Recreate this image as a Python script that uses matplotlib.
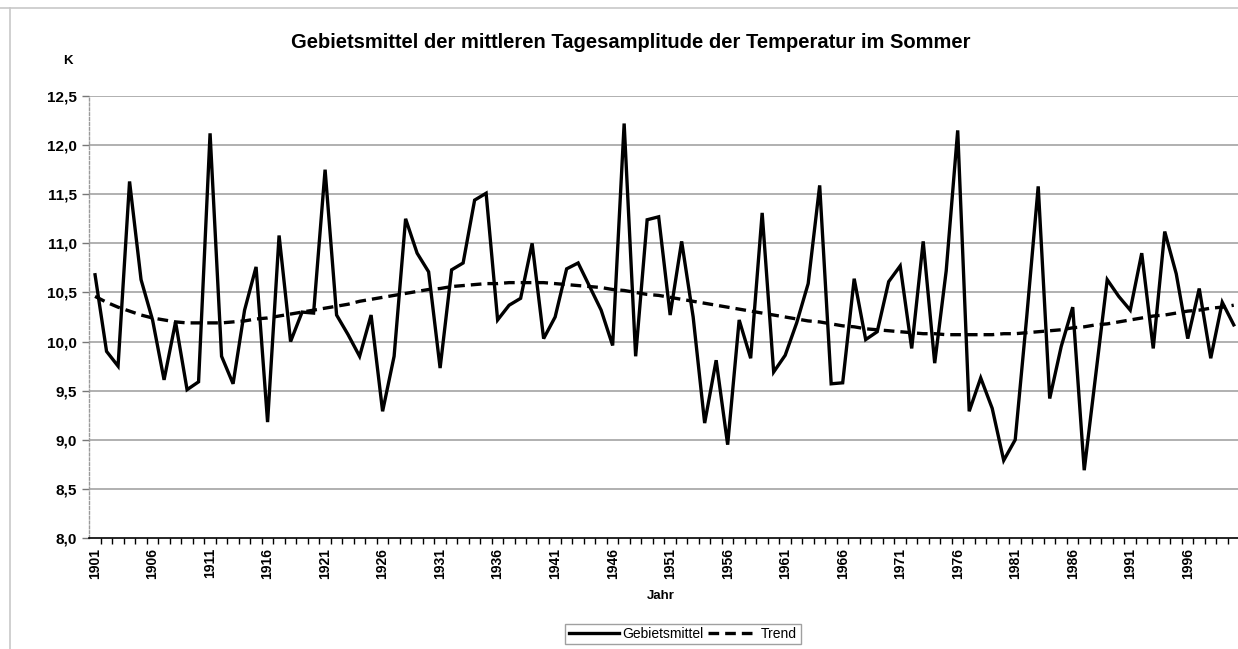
import matplotlib
matplotlib.use("Agg")
import matplotlib.pyplot as plt
from matplotlib.lines import Line2D
from matplotlib.ticker import FixedLocator, FixedFormatter

plt.rcParams['font.family'] = ['Liberation Sans', 'DejaVu Sans']

years = list(range(1901, 2001))

gebietsmittel = [
    10.68, 9.90, 9.75, 11.63, 10.63, 10.22, 9.61, 10.20, 9.51, 9.59,
    12.12, 9.85, 9.57, 10.32, 10.76, 9.18, 11.08, 10.00, 10.30, 10.29,
    11.75, 10.27, 10.07, 9.85, 10.27, 9.29, 9.85, 11.25, 10.90, 10.71,
    9.73, 10.73, 10.80, 11.44, 11.51, 10.22, 10.37, 10.44, 11.00, 10.03,
    10.25, 10.74, 10.80, 10.56, 10.32, 9.96, 12.22, 9.85, 11.24, 11.27,
    10.27, 11.02, 10.25, 9.17, 9.81, 8.95, 10.22, 9.83, 11.31, 9.69,
    9.86, 10.19, 10.59, 11.59, 9.57, 9.58, 10.64, 10.02, 10.10, 10.61,
    10.77, 9.93, 11.02, 9.78, 10.72, 12.15, 9.29, 9.63, 9.32, 8.79,
    9.00, 10.25, 11.58, 9.42, 9.95, 10.35, 8.69, 9.66, 10.63, 10.46,
    10.32, 10.90, 9.93, 11.12, 10.69, 10.03, 10.54, 9.83, 10.40, 10.17,
]

trend = [
    10.46, 10.40, 10.35, 10.31, 10.27, 10.24, 10.22, 10.20, 10.19, 10.19,
    10.19, 10.19, 10.20, 10.21, 10.23, 10.24, 10.26, 10.28, 10.30, 10.32,
    10.34, 10.36, 10.38, 10.41, 10.43, 10.45, 10.47, 10.49, 10.51, 10.53,
    10.54, 10.56, 10.57, 10.58, 10.59, 10.59, 10.60, 10.60, 10.60, 10.60,
    10.59, 10.58, 10.57, 10.56, 10.55, 10.53, 10.52, 10.50, 10.48, 10.47,
    10.45, 10.43, 10.41, 10.39, 10.37, 10.35, 10.33, 10.31, 10.29, 10.27,
    10.25, 10.23, 10.21, 10.20, 10.18, 10.16, 10.15, 10.13, 10.12, 10.11,
    10.10, 10.09, 10.08, 10.08, 10.07, 10.07, 10.07, 10.07, 10.07, 10.08,
    10.08, 10.09, 10.10, 10.11, 10.12, 10.14, 10.15, 10.17, 10.18, 10.20,
    10.22, 10.24, 10.26, 10.27, 10.29, 10.31, 10.32, 10.34, 10.35, 10.37,
]

year_labels = [str(y) for y in years[::5]]
y_ticks = [8.0, 8.5, 9.0, 9.5, 10.0, 10.5, 11.0, 11.5, 12.0, 12.5]
y_labels = ["8,0", "8,5", "9,0", "9,5", "10,0", "10,5", "11,0", "11,5", "12,0", "12,5"]

W, H = 1238, 649
fig = plt.figure(figsize=(W / 100, H / 100), dpi=100)
left, right, top, bottom = 89.3, 1239.5, 96, 538
ax = fig.add_axes([left / W, 1 - bottom / H, (right - left) / W, (bottom - top) / H])

# frame lines of the chart area (scan border)
fig.add_artist(Line2D([0, 1], [1 - 8 / H, 1 - 8 / H], color='#c8c8c8', lw=1.2))
fig.add_artist(Line2D([10 / W, 10 / W], [0, 1 - 8 / H], color='#c8c8c8', lw=1.2))

for v in y_ticks[1:]:
    ax.axhline(v, color='#aaaaaa', lw=1.3, zorder=1)

ax.plot(years, gebietsmittel, color='black', lw=2.4, solid_joinstyle='miter', zorder=3,
        label='Gebietsmittel')
ax.plot(years, trend, color='black', lw=2.4, linestyle=(0, (3.2, 1.8)), zorder=4,
        label='Trend')

ax.set_xlim(1900.5, 2000.5)
ax.set_ylim(8.0, 12.5)

ax.spines['top'].set_visible(False)
ax.spines['right'].set_visible(False)
ax.spines['left'].set_color('#9a9a9a')
ax.spines['left'].set_linestyle((0, (2, 1.5)))
ax.spines['left'].set_linewidth(1.0)
ax.spines['bottom'].set_color('black')
ax.spines['bottom'].set_linewidth(1.2)

ax.yaxis.set_major_locator(FixedLocator(y_ticks))
ax.yaxis.set_major_formatter(FixedFormatter(y_labels))
ax.tick_params(axis='y', length=5, width=1, color='#777777', pad=4,
               labelsize=11, labelcolor='black')

ax.xaxis.set_major_locator(FixedLocator(years[::5]))
ax.xaxis.set_major_formatter(FixedFormatter(year_labels))
ax.xaxis.set_minor_locator(FixedLocator([y + 0.5 for y in years[:-1]]))
ax.tick_params(axis='x', which='major', length=0, pad=7, labelsize=10, labelrotation=90)
ax.tick_params(axis='x', which='minor', length=4, width=1, color='black')

for lab in ax.get_xticklabels() + ax.get_yticklabels():
    lab.set_fontweight('bold')

fig.text(631 / W, 1 - 42 / H, 'Gebietsmittel der mittleren Tagesamplitude der Temperatur im Sommer',
         ha='center', va='center', fontsize=14.5, fontweight='bold')
fig.text(68 / W, 1 - 61 / H, 'K', ha='center', va='center', fontsize=9.5, fontweight='bold')
fig.text(661 / W, 1 - 596 / H, 'Jahr', ha='center', va='center', fontsize=9.5, fontweight='bold')

leg = fig.legend(loc='center', bbox_to_anchor=(683 / W, 1 - 634 / H), ncol=2, fontsize=10,
                 frameon=True, fancybox=False, handlelength=3.6, handletextpad=0.25,
                 columnspacing=0.3, borderpad=0.25, borderaxespad=0)
leg.get_frame().set_edgecolor('#888888')
leg.get_frame().set_linewidth(1.0)

fig.savefig('out.png', dpi=100)
